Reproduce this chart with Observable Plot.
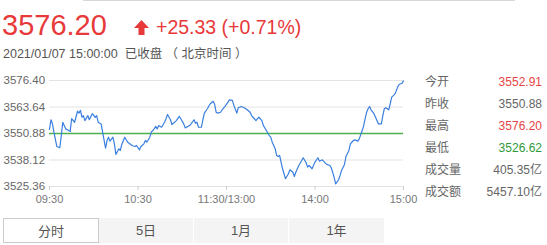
<!DOCTYPE html>
<html>
<head>
<meta charset="utf-8">
<script src="https://cdn.jsdelivr.net/npm/d3@7"></script>
<script src="https://cdn.jsdelivr.net/npm/@observablehq/plot@0.6"></script>
<style>
  html, body { margin: 0; padding: 0; background: #fff; }
  body { width: 547px; height: 245px; position: relative; overflow: hidden;
         font-family: "Liberation Sans", Arial, "Noto Sans CJK SC", sans-serif; }
  .topline { position: absolute; left: 83px; top: 0; width: 432px; height: 1px; background: #d8d8d8; }
  .price { position: absolute; left: 2px; top: 9px; font-size: 29px; color: #e8393a; line-height: 32px; }
  .arrow { position: absolute; left: 134px; top: 20px; }
  .change { position: absolute; left: 156px; top: 14px; font-size: 19.5px; color: #e8393a; line-height: 26px; }
  .time { position: absolute; left: 3px; top: 46px; font-size: 12.5px; color: #555; line-height: 16px; white-space: pre; }
  .stats { position: absolute; left: 425px; top: 73px; width: 117px; font-size: 12px; color: #666; }
  .row { height: 22px; line-height: 18px; position: relative; }
  .row .v { position: absolute; right: 0; top: 0; }
  .chart { position: absolute; left: 0; top: 65px; }
  .tabs { position: absolute; left: 3px; top: 218px; height: 25px; width: 381px; font-size: 13px; color: #555; }
  .tab { position: absolute; top: 0; height: 25px; line-height: 25px; text-align: center; box-sizing: border-box; }
  .tab.active { background: #fff; border: 1px solid #ccc; }
  .tab.off { background: #f4f4f4; }
</style>
</head>
<body>
<div class="topline"></div>
<div class="price" id="price"></div>
<svg class="arrow" width="15" height="15" viewBox="0 0 15 15"><polygon points="7.5,0 15,8 10.5,8 10.5,15 4.5,15 4.5,8 0,8" fill="#e8393a"/></svg>
<div class="change" id="change"></div>
<div class="time" id="time"></div>
<div class="stats" id="stats"></div>
<div class="chart" id="chart"></div>
<div class="tabs" id="tabs"></div>
<script>
// ---- data ----
const lastPrice = "3576.20";
const changeText = "+25.33 (+0.71%)";
const timeText = "2021/01/07 15:00:00  已收盘 （ 北京时间 ）";
const prevClose = 3550.88;

const minutes = [
  0,1,2,3,5,7,8,9,11,13,
  14,15,17,19,20,21,22,23,24,26,
  27,29,31,32,33,35,36,38,39,40,
  41,43,44,45,47,48,49,51,53,56,
  58,59,61,62,64,65,66,68,69,71,
  72,73,74,76,78,79,80,82,83,86,
  88,89,91,92,95,96,98,99,100,101,
  103,104,105,107,109,111,112,113,114,116,
  117,119,121,122,124,125,127,128,130,132,
  134,136,137,138,140,141,142,144,145,147,
  149,150,151,153,154,155,156,157,158,160,
  162,163,165,166,167,169,171,172,174,175,
  176,178,180,182,183,185,187,188,190,191,
  192,193,194,196,197,198,200,201,203,204,
  206,207,209,210,212,213,214,215,216,217,
  218,220,222,223,225,226,227,228,230,231,
  232,234,235,236,237,239,240
];
const prices = [
  3552.91,3557.5,3555.5,3551.5,3544.6,3544.0,3549.9,3556.3,3553.1,3552.3,
  3551.8,3558.0,3556.3,3561.6,3560.7,3562.0,3558.7,3559.5,3557.1,3559.5,
  3557.5,3560.4,3558.7,3559.5,3556.3,3555.5,3551.5,3543.8,3547.5,3549.1,
  3547.2,3549.1,3545.9,3540.8,3543.5,3542.7,3545.6,3549.1,3546.7,3545.1,
  3544.6,3545.1,3543.0,3544.6,3545.9,3547.5,3546.7,3549.1,3551.5,3553.1,
  3554.3,3553.1,3554.7,3553.9,3556.3,3558.0,3560.0,3557.5,3555.2,3557.1,
  3559.1,3558.0,3555.5,3553.6,3554.7,3555.5,3557.5,3555.8,3556.3,3553.9,
  3553.9,3557.5,3560.7,3562.8,3565.2,3566.4,3564.8,3561.1,3560.7,3561.1,
  3562.3,3563.9,3566.0,3567.1,3566.8,3564.4,3560.7,3563.3,3563.9,3563.3,
  3562.3,3561.1,3559.5,3558.7,3557.1,3558.0,3558.7,3557.1,3554.7,3552.3,
  3549.9,3549.1,3546.7,3543.5,3540.3,3539.8,3540.3,3537.1,3533.9,3529.1,
  3531.5,3533.4,3532.2,3530.2,3532.2,3535.5,3537.9,3539.2,3536.8,3534.7,
  3535.5,3533.9,3537.1,3539.2,3537.5,3538.2,3536.6,3536.0,3535.5,3534.4,
  3532.2,3529.6,3526.62,3528.6,3530.7,3533.1,3536.0,3539.8,3542.7,3545.9,
  3547.5,3547.8,3547.2,3548.3,3552.3,3554.7,3558.0,3561.1,3562.8,3563.9,
  3562.3,3560.4,3557.1,3555.5,3555.5,3559.5,3562.8,3563.3,3562.3,3565.2,
  3568.4,3569.7,3571.2,3573.2,3574.5,3575.1,3576.2
];
const yTicks = [3525.36, 3538.12, 3550.88, 3563.64, 3576.40];
const gridTicks = [3525.36, 3538.12, 3563.64, 3576.40];
const xTicks = [0, 60, 120, 180, 240];
const xTickLabels = ["09:30", "10:30", "11:30/13:00", "14:00", "15:00"];

const statLabels = ["今开", "昨收", "最高", "最低", "成交量", "成交额"];
const statValues = ["3552.91", "3550.88", "3576.20", "3526.62", "405.35亿", "5457.10亿"];
const statColors = ["#e64545", "#666", "#e64545", "#2f9a3a", "#666", "#666"];

const tabLabels = ["分时", "5日", "1月", "1年"];

// ---- header ----
document.getElementById("price").textContent = lastPrice;
document.getElementById("change").textContent = changeText;
document.getElementById("time").textContent = timeText;

const stats = document.getElementById("stats");
statLabels.forEach((l, i) => {
  const r = document.createElement("div"); r.className = "row";
  const a = document.createElement("span"); a.textContent = l;
  const b = document.createElement("span"); b.className = "v"; b.textContent = statValues[i]; b.style.color = statColors[i];
  r.appendChild(a); r.appendChild(b); stats.appendChild(r);
});

const tabs = document.getElementById("tabs");
const tabLefts = [0, 96, 191, 286];
const tabWidths = [96, 94, 94, 95];
tabLabels.forEach((t, i) => {
  const d = document.createElement("div");
  d.className = "tab " + (i === 0 ? "active" : "off");
  d.style.left = tabLefts[i] + "px"; d.style.width = tabWidths[i] + "px";
  d.textContent = t; tabs.appendChild(d);
});

// ---- chart ----
const data = minutes.map((m, i) => ({m, v: prices[i]}));
const baseData = [{v: prevClose}];
const chart = Plot.plot({
  width: 420, height: 140,
  marginLeft: 49, marginRight: 17, marginTop: 15, marginBottom: 19,
  style: {fontFamily: '"Liberation Sans", Arial, sans-serif', fontSize: "11px", background: "transparent", color: "#4caf50"},
  x: {domain: [0, 240], axis: null},
  y: {domain: [3525.36, 3576.40], axis: null},
  marks: [
    Plot.ruleY(gridTicks, {stroke: "#e3e3e3"}),
    Plot.text(yTicks, {y: d => d, text: d => d.toFixed(2), frameAnchor: "left", textAnchor: "start", dx: -46, fill: "#666", fontSize: 11.5}),
    Plot.axisX(xTicks, {tickSize: 4, stroke: "#ccc", fill: "#777", tickFormat: (d, i) => xTickLabels[i], label: null}),
    Plot.ruleY(baseData, {y: "v", stroke: "#4caf50", strokeWidth: 1.5}),
    Plot.line(data, {x: "m", y: "v", stroke: "#3a7fe0", strokeWidth: 1.2})
  ]
});
document.getElementById("chart").appendChild(chart);
</script>
</body>
</html>
